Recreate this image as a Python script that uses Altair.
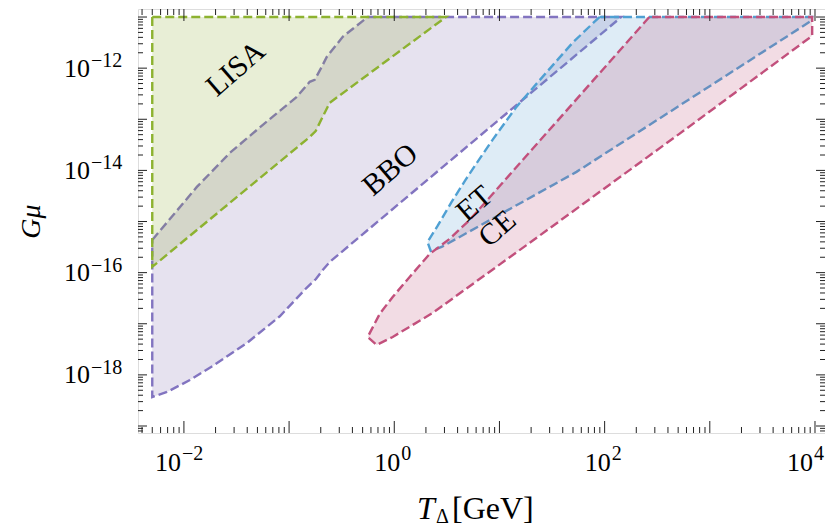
import altair as alt
import pandas as pd

# ---- region outlines (T_Delta [GeV], G mu) ----
lisa_x = [5.0e-3, 3.1, 0.243, 0.179, 0.157, 5.0e-3]
lisa_y = [1e-11, 1e-11, 2.1e-13, 5.9e-14, 4.5e-14, 1.3e-16]

bbo_x = [5.0e-3, 0.01328, 0.02735, 0.0563, 0.1183, 0.157, 0.175, 0.2044, 0.228,
         0.3236, 0.559, 144, 0.2435, 0.209, 0.18, 0.146, 0.0816, 0.0397,
         0.01886, 0.0114, 6.9e-3, 5.0e-3]
bbo_y = [4.36e-16, 4.75e-15, 2.2e-14, 7.77e-14, 2.74e-13, 5.4e-13, 5.9e-13,
         1.06e-12, 1.66e-12, 4.1e-12, 1e-11, 1e-11, 1.62e-16, 1.13e-16, 7.5e-17,
         5.0e-17, 1.4e-17, 4.2e-18, 1.5e-18, 7.94e-19, 4.63e-19, 3.7e-19]

et_x = [89.3, 49.5, 25.7, 14.5, 8.60, 6.19, 4.76, 3.51, 2.58, 2.07, 2.22, 2.82,
        54.0, 9200, 9.4e3]
et_y = [1e-11, 3.13e-12, 6.76e-13, 1.75e-13, 3.95e-14, 1.47e-14, 6.52e-15,
        2.42e-15, 8.2e-16, 3.99e-16, 2.66e-16, 3.18e-16, 9.35e-15, 8.42e-12, 1e-11]

ce_x = [266, 5.20, 3.36, 2.17, 1.40, 0.966, 0.727, 0.559, 0.681, 0.966, 2.32,
        19.3, 513, 9.4e3, 9.4e3]
ce_y = [1e-11, 1.07e-15, 4.57e-16, 2.32e-16, 8.24e-17, 3.35e-17, 1.56e-17,
        5.52e-18, 3.85e-18, 5.52e-18, 1.63e-17, 3.81e-16, 5.18e-14, 4.28e-12, 1e-11]

labels = ["LISA", "BBO", "ET", "CE"]
label_x = [0.0312, 0.918, 5.8, 9.6]
label_y = [9.7e-13, 1.02e-14, 2.2e-15, 7.2e-16]

x_domain = [3.66e-3, 1.245e4]
y_domain = [7.3e-20, 1.435e-11]

# tick labels: base "10" with exponent
x_lab_neg = [0.01]
x_lab_neg_exp = ["−2"]
x_lab_pos = [1, 100]
x_lab_pos_exp = ["0", "2"]
x_lab_last = [10000]
x_lab_last_exp = ["4"]
y_lab_vals = [1e-18, 1e-16, 1e-14, 1e-12]
y_lab_exp = ["−18", "−16", "−14", "−12"]

W, H = 687, 424
FONT = "Liberation Serif"

x_major = [10.0 ** k for k in range(-2, 5)]
x_minor = [m * 10.0 ** k for k in range(-3, 5) for m in range(2, 10)
           if x_domain[0] <= m * 10.0 ** k <= x_domain[1]]
y_major = [10.0 ** k for k in range(-19, -10)]
y_minor = [m * 10.0 ** k for k in range(-20, -10) for m in range(2, 10)
           if y_domain[0] <= m * 10.0 ** k <= y_domain[1]]

xs = alt.Scale(type="log", domain=x_domain, nice=False)
ys = alt.Scale(type="log", domain=y_domain, nice=False)

xaxis = alt.Axis(labels=False, ticks=False, domain=False, grid=False, title=None)
yaxis = alt.Axis(labels=False, ticks=False, domain=False, grid=False,
                 title="Gμ", titleFont=FONT, titleFontSize=28, titleFontStyle="italic",
                 titleFontWeight="normal", titleColor="black",
                 titleX=-107, titleY=H / 2, titleAngle=270, titleAlign="center",
                 titleBaseline="middle")

X = alt.X("x:Q", scale=xs, axis=xaxis)
Y = alt.Y("y:Q", scale=ys, axis=yaxis)


def poly(px, py):
    px = list(px) + [px[0]]
    py = list(py) + [py[0]]
    return pd.DataFrame({"x": px, "y": py, "i": list(range(len(px)))})


def region(px, py, stroke, fill):
    return alt.Chart(poly(px, py)).mark_line(
        fill=fill, fillOpacity=0.2, stroke=stroke, strokeWidth=2.4,
        strokeDash=[9, 4], interpolate="linear"
    ).encode(x=X, y=Y, order="i:Q")


bbo = region(bbo_x, bbo_y, "#8274c0", "#826eb0")
lisa = region(lisa_x, lisa_y, "#8db230", "#8caa32")
et = region(et_x, et_y, "#4fa0d3", "#5a9ed0")
ce = region(ce_x, ce_y, "#c2507c", "#be5078")

lab_df = pd.DataFrame({"x": label_x, "y": label_y, "t": labels})
texts = alt.Chart(lab_df).mark_text(
    font=FONT, fontSize=30, angle=319, align="center", baseline="middle", color="black"
).encode(x=X, y=Y, text="t:N")


# inward ticks on all four sides
def xticks(vals, length):
    df = pd.DataFrame({"x": vals})
    bottom = alt.Chart(df).mark_rule(color="#222", strokeWidth=1).encode(
        x=X, y=alt.value(H), y2=alt.value(H - length))
    top = alt.Chart(df).mark_rule(color="#222", strokeWidth=1).encode(
        x=X, y=alt.value(0), y2=alt.value(length))
    return [bottom, top]


def yticks(vals, length):
    df = pd.DataFrame({"y": vals})
    left = alt.Chart(df).mark_rule(color="#222", strokeWidth=1).encode(
        y=Y, x=alt.value(0), x2=alt.value(length))
    right = alt.Chart(df).mark_rule(color="#222", strokeWidth=1).encode(
        y=Y, x=alt.value(W), x2=alt.value(W - length))
    return [left, right]


ticks = xticks(x_major, 12) + xticks(x_minor, 6) + yticks(y_major, 9) + yticks(y_minor, 5)


# tick labels as "10" + superscript exponent
def xlabels(vals, exps, dx):
    df = pd.DataFrame({"x": vals, "e": exps})
    base = alt.Chart(df).mark_text(text="10", font=FONT, fontSize=26, align="right",
                                   baseline="alphabetic", dx=dx, color="black"
                                   ).encode(x=X, y=alt.value(H + 38))
    ex = alt.Chart(df).mark_text(font=FONT, fontSize=20, align="left",
                                 baseline="alphabetic", dx=dx + 1, color="black"
                                 ).encode(x=X, y=alt.value(H + 27), text="e:N")
    return [base, ex]


ydf = pd.DataFrame({"y": y_lab_vals, "e": y_lab_exp})
ybase = alt.Chart(ydf).mark_text(text="10", font=FONT, fontSize=26, align="right",
                                 baseline="alphabetic", dy=8.5, color="black"
                                 ).encode(y=Y, x=alt.value(-48))
yexp = alt.Chart(ydf).mark_text(font=FONT, fontSize=20, align="left",
                                baseline="alphabetic", dy=-1, color="black"
                                ).encode(y=Y, x=alt.value(-47), text="e:N")

tick_labels = (xlabels(x_lab_neg, x_lab_neg_exp, -3) + xlabels(x_lab_pos, x_lab_pos_exp, 6)
               + xlabels(x_lab_last, x_lab_last_exp, -2) + [ybase, yexp])

# x-axis title  T_Δ[GeV]
one = pd.DataFrame({"k": [0]})
t_T = alt.Chart(one).mark_text(text="T", font=FONT, fontSize=32, fontStyle="italic",
                               align="left", baseline="alphabetic", color="black"
                               ).encode(x=alt.value(279), y=alt.value(510))
t_D = alt.Chart(one).mark_text(text="Δ", font=FONT, fontSize=20,
                               align="left", baseline="alphabetic", color="black"
                               ).encode(x=alt.value(298), y=alt.value(514))
t_G = alt.Chart(one).mark_text(text="[GeV]", font=FONT, fontSize=32,
                               align="left", baseline="alphabetic", color="black"
                               ).encode(x=alt.value(314), y=alt.value(510))

chart = alt.layer(bbo, lisa, et, ce, texts, *ticks, *tick_labels, t_T, t_D, t_G).properties(
    width=W, height=H,
    autosize=alt.AutoSizeParams(type="none"),
    padding={"left": 130, "top": 1, "right": 0, "bottom": 96},
).configure_view(stroke="#222", strokeWidth=1.2).configure(background="white")

chart.save("out.html", embed_options={"renderer": "svg", "actions": False})
